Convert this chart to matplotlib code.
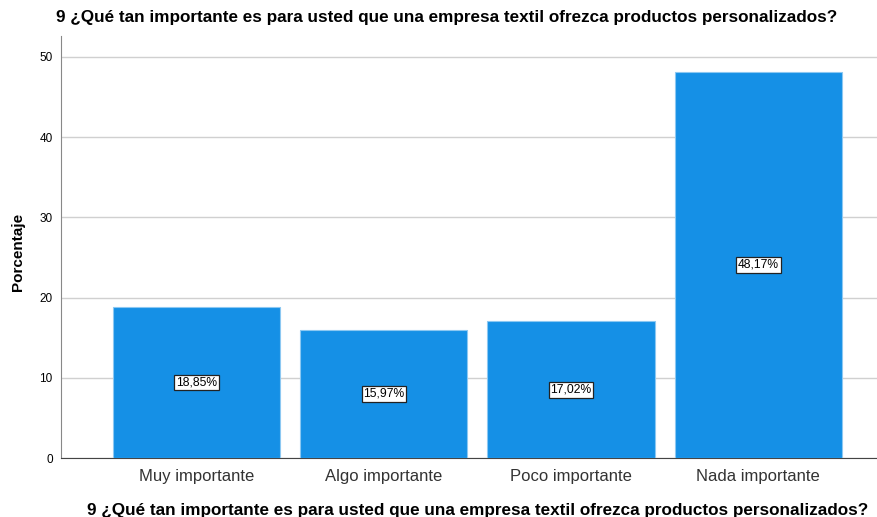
import matplotlib
matplotlib.use("Agg")
import matplotlib.pyplot as plt

plt.rcParams['font.family'] = ['Liberation Sans', 'DejaVu Sans']

categorias = ["Muy importante", "Algo importante", "Poco importante", "Nada importante"]
porcentajes = [18.85, 15.97, 17.02, 48.17]
etiquetas = ["18,85%", "15,97%", "17,02%", "48,17%"]
pregunta = "9 ¿Qué tan importante es para usted que una empresa textil ofrezca productos personalizados?"

fig = plt.figure(figsize=(8.78, 5.17), dpi=100)
ax = fig.add_axes([0.0695, 0.1141, 0.9305, 0.8163])

pos = list(range(len(categorias)))
ax.bar(pos, porcentajes, width=0.893, color="#1590e6", edgecolor="#8cc8f2",
       linewidth=0.8, zorder=3)

# etiqueta de valor centrada en cada barra
for x, v, t in zip(pos, porcentajes, etiquetas):
    ax.text(x, v / 2, t, ha="center", va="center", fontsize=8.7, zorder=4,
            bbox=dict(boxstyle="square,pad=0.15", fc="white", ec="#222222", lw=0.9))

ax.set_xlim(-0.725, 3.64)
ax.set_ylim(0, 52.6)
ax.set_yticks([0, 10, 20, 30, 40, 50])
ax.set_xticks(pos)
ax.set_xticklabels(categorias, fontsize=12, color="#333333")
ax.tick_params(axis="y", length=0, labelsize=8.5, pad=6)
ax.tick_params(axis="x", length=0, pad=8)
ax.yaxis.grid(True, color="#d0d0d0", linewidth=1, zorder=0)

for s in ["top", "right"]:
    ax.spines[s].set_visible(False)
ax.spines["left"].set_color("#888888")
ax.spines["bottom"].set_color("#444444")

fig.text(0.5435, 0.013, pregunta, ha="center", va="center",
         fontsize=12.3, fontweight="bold")
fig.text(0.021, 0.513, "Porcentaje", rotation=90, ha="center", va="center",
         fontsize=11, fontweight="bold")
fig.text(0.509, 0.967, pregunta, ha="center", va="center", fontsize=12.3, fontweight="bold")

fig.savefig("out.png", dpi=100)
